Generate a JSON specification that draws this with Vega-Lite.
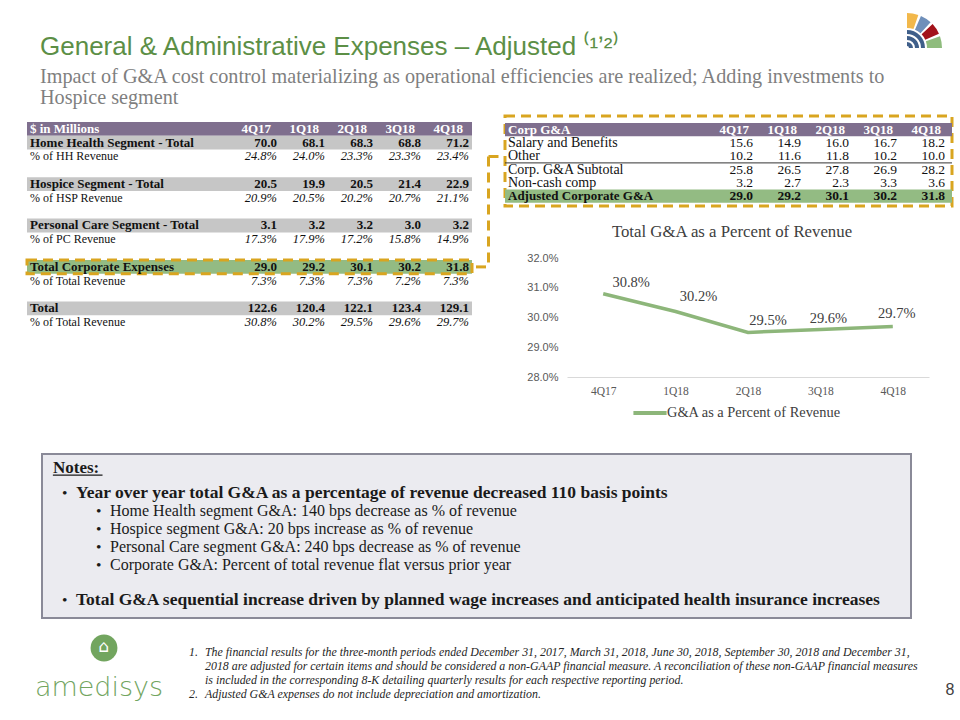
{
  "$schema": "https://vega.github.io/schema/vega-lite/v6.json",
  "background": "white",
  "padding": {"left": 25, "top": 12, "right": 0, "bottom": 0},
  "spacing": 0,
  "resolve": {"scale": {"color": "independent"}, "legend": {"color": "independent"}},
  "config": {"view": {"stroke": null}},
  "datasets": {
    "leftLabels": [
      {"id": "hdr", "label": "$ in Millions", "type": "header"},
      {"id": "hh", "label": "Home Health Segment - Total", "type": "total"},
      {"id": "hhp", "label": "% of HH Revenue", "type": "pct"},
      {"id": "hsp", "label": "Hospice Segment - Total", "type": "total"},
      {"id": "hspp", "label": "% of HSP Revenue", "type": "pct"},
      {"id": "pc", "label": "Personal Care Segment - Total", "type": "total"},
      {"id": "pcp", "label": "% of PC Revenue", "type": "pct"},
      {"id": "corp", "label": "Total Corporate Expenses", "type": "corp"},
      {"id": "corpp", "label": "% of Total Revenue", "type": "pct"},
      {"id": "tot", "label": "Total", "type": "total"},
      {"id": "totp", "label": "% of Total Revenue", "type": "pct"}
    ],
    "leftValues": [
      {"id": "hh", "q": "4Q17", "v": 70.0}, {"id": "hh", "q": "1Q18", "v": 68.1}, {"id": "hh", "q": "2Q18", "v": 68.3}, {"id": "hh", "q": "3Q18", "v": 68.8}, {"id": "hh", "q": "4Q18", "v": 71.2},
      {"id": "hhp", "q": "4Q17", "v": 0.248}, {"id": "hhp", "q": "1Q18", "v": 0.240}, {"id": "hhp", "q": "2Q18", "v": 0.233}, {"id": "hhp", "q": "3Q18", "v": 0.233}, {"id": "hhp", "q": "4Q18", "v": 0.234},
      {"id": "hsp", "q": "4Q17", "v": 20.5}, {"id": "hsp", "q": "1Q18", "v": 19.9}, {"id": "hsp", "q": "2Q18", "v": 20.5}, {"id": "hsp", "q": "3Q18", "v": 21.4}, {"id": "hsp", "q": "4Q18", "v": 22.9},
      {"id": "hspp", "q": "4Q17", "v": 0.209}, {"id": "hspp", "q": "1Q18", "v": 0.205}, {"id": "hspp", "q": "2Q18", "v": 0.202}, {"id": "hspp", "q": "3Q18", "v": 0.207}, {"id": "hspp", "q": "4Q18", "v": 0.211},
      {"id": "pc", "q": "4Q17", "v": 3.1}, {"id": "pc", "q": "1Q18", "v": 3.2}, {"id": "pc", "q": "2Q18", "v": 3.2}, {"id": "pc", "q": "3Q18", "v": 3.0}, {"id": "pc", "q": "4Q18", "v": 3.2},
      {"id": "pcp", "q": "4Q17", "v": 0.173}, {"id": "pcp", "q": "1Q18", "v": 0.179}, {"id": "pcp", "q": "2Q18", "v": 0.172}, {"id": "pcp", "q": "3Q18", "v": 0.158}, {"id": "pcp", "q": "4Q18", "v": 0.149},
      {"id": "corp", "q": "4Q17", "v": 29.0}, {"id": "corp", "q": "1Q18", "v": 29.2}, {"id": "corp", "q": "2Q18", "v": 30.1}, {"id": "corp", "q": "3Q18", "v": 30.2}, {"id": "corp", "q": "4Q18", "v": 31.8},
      {"id": "corpp", "q": "4Q17", "v": 0.073}, {"id": "corpp", "q": "1Q18", "v": 0.073}, {"id": "corpp", "q": "2Q18", "v": 0.073}, {"id": "corpp", "q": "3Q18", "v": 0.072}, {"id": "corpp", "q": "4Q18", "v": 0.073},
      {"id": "tot", "q": "4Q17", "v": 122.6}, {"id": "tot", "q": "1Q18", "v": 120.4}, {"id": "tot", "q": "2Q18", "v": 122.1}, {"id": "tot", "q": "3Q18", "v": 123.4}, {"id": "tot", "q": "4Q18", "v": 129.1},
      {"id": "totp", "q": "4Q17", "v": 0.308}, {"id": "totp", "q": "1Q18", "v": 0.302}, {"id": "totp", "q": "2Q18", "v": 0.295}, {"id": "totp", "q": "3Q18", "v": 0.296}, {"id": "totp", "q": "4Q18", "v": 0.297}
    ],
    "corpLabels": [
      {"id": "hdr", "label": "Corp G&A", "type": "header"},
      {"id": "sal", "label": "Salary and Benefits", "type": "item"},
      {"id": "oth", "label": "Other", "type": "item"},
      {"id": "sub", "label": "Corp. G&A Subtotal", "type": "item"},
      {"id": "ncc", "label": "Non-cash comp", "type": "item"},
      {"id": "adj", "label": "Adjusted Corporate G&A", "type": "corp"}
    ],
    "corpValues": [
      {"id": "sal", "q": "4Q17", "v": 15.6}, {"id": "sal", "q": "1Q18", "v": 14.9}, {"id": "sal", "q": "2Q18", "v": 16.0}, {"id": "sal", "q": "3Q18", "v": 16.7}, {"id": "sal", "q": "4Q18", "v": 18.2},
      {"id": "oth", "q": "4Q17", "v": 10.2}, {"id": "oth", "q": "1Q18", "v": 11.6}, {"id": "oth", "q": "2Q18", "v": 11.8}, {"id": "oth", "q": "3Q18", "v": 10.2}, {"id": "oth", "q": "4Q18", "v": 10.0},
      {"id": "sub", "q": "4Q17", "v": 25.8}, {"id": "sub", "q": "1Q18", "v": 26.5}, {"id": "sub", "q": "2Q18", "v": 27.8}, {"id": "sub", "q": "3Q18", "v": 26.9}, {"id": "sub", "q": "4Q18", "v": 28.2},
      {"id": "ncc", "q": "4Q17", "v": 3.2}, {"id": "ncc", "q": "1Q18", "v": 2.7}, {"id": "ncc", "q": "2Q18", "v": 2.3}, {"id": "ncc", "q": "3Q18", "v": 3.3}, {"id": "ncc", "q": "4Q18", "v": 3.6},
      {"id": "adj", "q": "4Q17", "v": 29.0}, {"id": "adj", "q": "1Q18", "v": 29.2}, {"id": "adj", "q": "2Q18", "v": 30.1}, {"id": "adj", "q": "3Q18", "v": 30.2}, {"id": "adj", "q": "4Q18", "v": 31.8}
    ],
    "trend": [
      {"q": "4Q17", "pct": 0.308},
      {"q": "1Q18", "pct": 0.302},
      {"q": "2Q18", "pct": 0.295},
      {"q": "3Q18", "pct": 0.296},
      {"q": "4Q18", "pct": 0.297}
    ],
    "notes": [
      {"id": "notes", "level": 0, "text": "Notes:"},
      {"id": "yoy", "level": 1, "text": "Year over year total G&A as a percentage of revenue decreased 110 basis points"},
      {"id": "hh", "level": 2, "text": "Home Health segment G&A: 140 bps decrease as % of revenue"},
      {"id": "hsp", "level": 2, "text": "Hospice segment G&A: 20 bps increase as % of revenue"},
      {"id": "pc", "level": 2, "text": "Personal Care segment G&A: 240 bps decrease as % of revenue"},
      {"id": "corp", "level": 2, "text": "Corporate G&A: Percent of total revenue flat versus prior year"},
      {"id": "seq", "level": 1, "text": "Total G&A sequential increase driven by planned wage increases and anticipated health insurance increases"}
    ],
    "footnotes": [
      {"num": "1.", "text": "The financial results for the three-month periods ended December 31, 2017, March 31, 2018, June 30, 2018, September 30, 2018 and December 31,"},
      {"num": "", "text": "2018 are adjusted for certain items and should be considered a non-GAAP financial measure.  A reconciliation of these non-GAAP financial measures"},
      {"num": "", "text": "is included in the corresponding 8-K detailing quarterly results for each respective reporting period."},
      {"num": "2.", "text": "Adjusted G&A expenses do not include depreciation and amortization."}
    ]
  },
  "vconcat": [
    {
      "hconcat": [
        {
          "width": 820, "height": 20,
          "data": {"values": []},
          "mark": "point",
          "title": {
            "text": "General & Administrative Expenses – Adjusted ⁽¹ʼ²⁾",
            "subtitle": ["Impact of G&A cost control materializing as operational efficiencies are realized; Adding investments to", "Hospice segment"],
            "orient": "bottom", "anchor": "start", "dx": 13, "offset": 2,
            "font": "Liberation Sans", "fontSize": 26, "fontWeight": "normal", "color": "#5c8f46",
            "subtitleFont": "Liberation Serif", "subtitleFontSize": 20.2, "subtitleColor": "#7f7f7f",
            "subtitlePadding": 7, "subtitleLineHeight": 21
          }
        },
        {
          "width": 72, "height": 72,
          "data": {"values": [{}]},
          "layer": [
            {"mark": {"type": "arc", "theta": 0.0, "theta2": 0.33, "innerRadius": 20, "outerRadius": 35, "color": "#f2b84b"}, "encoding": {}},
            {"mark": {"type": "arc", "theta": 0.41, "theta2": 0.74, "innerRadius": 20, "outerRadius": 35, "color": "#6f8fba"}, "encoding": {}},
            {"mark": {"type": "arc", "theta": 0.82, "theta2": 1.15, "innerRadius": 20, "outerRadius": 35, "color": "#a3121a"}, "encoding": {}},
            {"mark": {"type": "arc", "theta": 1.23, "theta2": 1.5708, "innerRadius": 20, "outerRadius": 35, "color": "#8fbc7d"}, "encoding": {}},
            {"mark": {"type": "arc", "theta": 0.0, "theta2": 1.5708, "innerRadius": 14, "outerRadius": 18, "color": "#3f5f8a"}, "encoding": {}},
            {"mark": {"type": "arc", "theta": 0.0, "theta2": 1.5708, "innerRadius": 8, "outerRadius": 12, "color": "#3f5f8a"}, "encoding": {}},
            {"mark": {"type": "arc", "theta": 0.0, "theta2": 1.5708, "innerRadius": 2, "outerRadius": 6, "color": "#3f5f8a"}, "encoding": {}}
          ]
        }
      ],
      "spacing": 24,
      "bounds": "flush"
    },
    {"width": 1, "height": 5, "data": {"values": []}, "mark": "point"},
    {
      "resolve": {"scale": {"color": "independent"}, "legend": {"color": "independent"}},
      "hconcat": [
        {
          "width": 445, "height": 213,
          "resolve": {"scale": {"x": "independent"}},
          "encoding": {
            "y": {"field": "id", "type": "nominal", "axis": null,
                  "scale": {"type": "band", "domain": ["hdr", "hh", "hhp", "g1", "hsp", "hspp", "g2", "pc", "pcp", "g3", "corp", "corpp", "g4", "tot", "totp"], "paddingInner": 0, "paddingOuter": 0.217, "align": 1}}
          },
          "layer": [
            {"data": {"name": "leftLabels"}, "transform": [{"filter": "datum.type == 'header'"}], "mark": {"type": "rect", "color": "#7f6f8e"}},
            {"data": {"name": "leftLabels"}, "transform": [{"filter": "datum.type == 'total'"}], "mark": {"type": "rect", "color": "#c6c6c6"}},
            {"data": {"name": "leftLabels"}, "transform": [{"filter": "datum.type == 'corp'"}], "mark": {"type": "rect", "fill": "#93bb83", "stroke": "#d9a520", "strokeWidth": 3, "strokeDash": [10, 6]}},
            {"data": {"name": "leftLabels"}, "transform": [{"filter": "datum.type == 'header'"}],
             "mark": {"type": "text", "align": "left", "dx": 3, "font": "Liberation Serif", "fontSize": 13, "fontWeight": "bold", "color": "#ffffff"},
             "encoding": {"x": {"datum": 0, "type": "quantitative", "scale": {"domain": [0, 1]}, "axis": null}, "text": {"field": "label"}}},
            {"data": {"name": "leftLabels"}, "transform": [{"filter": "datum.type == 'total' || datum.type == 'corp'"}],
             "mark": {"type": "text", "align": "left", "dx": 3, "font": "Liberation Serif", "fontSize": 13, "fontWeight": "bold", "color": "#111111"},
             "encoding": {"x": {"datum": 0, "type": "quantitative", "scale": {"domain": [0, 1]}, "axis": null}, "text": {"field": "label"}}},
            {"data": {"name": "leftLabels"}, "transform": [{"filter": "datum.type == 'pct'"}],
             "mark": {"type": "text", "align": "left", "dx": 3, "font": "Liberation Serif", "fontSize": 12, "color": "#111111"},
             "encoding": {"x": {"datum": 0, "type": "quantitative", "scale": {"domain": [0, 1]}, "axis": null}, "text": {"field": "label"}}},
            {"data": {"name": "leftValues"}, "transform": [{"filter": "datum.id == 'hh'"}],
             "mark": {"type": "text", "align": "right", "dx": -9, "font": "Liberation Serif", "fontSize": 13, "fontWeight": "bold", "color": "#ffffff"},
             "encoding": {
               "x": {"field": "q", "type": "ordinal", "bandPosition": 1, "axis": null, "scale": {"type": "band", "domain": ["4Q17", "1Q18", "2Q18", "3Q18", "4Q18"], "range": [205, 445], "paddingInner": 0, "paddingOuter": 0}},
               "y": {"datum": "hdr"},
               "text": {"field": "q"}}},
            {"data": {"name": "leftValues"}, "transform": [{"filter": {"field": "id", "oneOf": ["hh", "hsp", "pc", "corp", "tot"]}}],
             "mark": {"type": "text", "align": "right", "dx": -3, "font": "Liberation Serif", "fontSize": 13, "fontWeight": "bold", "color": "#111111"},
             "encoding": {
               "x": {"field": "q", "type": "ordinal", "bandPosition": 1, "axis": null, "scale": {"type": "band", "domain": ["4Q17", "1Q18", "2Q18", "3Q18", "4Q18"], "range": [205, 445], "paddingInner": 0, "paddingOuter": 0}},
               "text": {"field": "v", "type": "quantitative", "format": ".1f"}}},
            {"data": {"name": "leftValues"}, "transform": [{"filter": {"field": "id", "oneOf": ["hhp", "hspp", "pcp", "corpp", "totp"]}}],
             "mark": {"type": "text", "align": "right", "dx": -3, "font": "Liberation Serif", "fontSize": 12.5, "fontStyle": "italic", "color": "#111111"},
             "encoding": {
               "x": {"field": "q", "type": "ordinal", "bandPosition": 1, "axis": null, "scale": {"type": "band", "domain": ["4Q17", "1Q18", "2Q18", "3Q18", "4Q18"], "range": [205, 445], "paddingInner": 0, "paddingOuter": 0}},
               "text": {"field": "v", "type": "quantitative", "format": ".1%"}}}
          ]
        },
        {
          "width": 25, "height": 213,
          "data": {"values": [{}]},
          "encoding": {},
          "layer": [
            {"mark": {"type": "rule", "color": "#d9a520", "strokeWidth": 3, "strokeDash": [10, 6]},
             "encoding": {
               "x": {"datum": "link", "type": "nominal", "axis": null, "scale": {"type": "point", "domain": ["table", "link", "box"], "padding": 0}},
               "y": {"datum": "hhp", "type": "nominal", "axis": null, "scale": {"type": "band", "domain": ["hdr", "hh", "hhp", "g1", "hsp", "hspp", "g2", "pc", "pcp", "g3", "corp", "corpp", "g4", "tot", "totp"], "paddingInner": 0, "paddingOuter": 0.217, "align": 1}},
               "y2": {"datum": "corp"}}},
            {"mark": {"type": "rule", "color": "#d9a520", "strokeWidth": 3, "strokeDash": [10, 6]},
             "encoding": {"x": {"datum": "table", "type": "nominal"}, "x2": {"datum": "link"}, "y": {"datum": "corp", "type": "nominal"}}},
            {"mark": {"type": "rule", "color": "#d9a520", "strokeWidth": 3, "strokeDash": [10, 6]},
             "encoding": {"x": {"datum": "link", "type": "nominal"}, "x2": {"datum": "box"}, "y": {"datum": "hhp", "type": "nominal"}}}
          ]
        },
        {
          "resolve": {"scale": {"color": "independent"}, "legend": {"color": "independent"}},
          "vconcat": [
            {
              "width": 447, "height": 90,
              "view": {"stroke": "#d9a520", "strokeWidth": 3, "strokeDash": [10, 6]},
              "resolve": {"scale": {"x": "independent"}},
              "encoding": {
                "y": {"field": "id", "type": "nominal", "axis": null,
                      "scale": {"type": "band", "domain": ["hdr", "sal", "oth", "sub", "ncc", "adj"], "paddingInner": 0, "paddingOuter": 0.383, "align": 0.686}}
              },
              "layer": [
                {"data": {"name": "corpLabels"}, "transform": [{"filter": "datum.type == 'header'"}], "mark": {"type": "rect", "color": "#7f6f8e"}},
                {"data": {"name": "corpLabels"}, "transform": [{"filter": "datum.type == 'corp'"}], "mark": {"type": "rect", "color": "#93bb83"}},
                {"data": {"name": "corpLabels"}, "transform": [{"filter": "datum.id == 'oth'"}], "mark": {"type": "rule", "color": "#333333", "strokeWidth": 1},
                 "encoding": {"y": {"field": "id", "type": "nominal", "bandPosition": 1, "axis": null}}},
                {"data": {"name": "corpLabels"}, "transform": [{"filter": "datum.type == 'header'"}],
                 "mark": {"type": "text", "align": "left", "dx": 3, "font": "Liberation Serif", "fontSize": 13, "fontWeight": "bold", "color": "#ffffff"},
                 "encoding": {"x": {"datum": 0, "type": "quantitative", "scale": {"domain": [0, 1]}, "axis": null}, "text": {"field": "label"}}},
                {"data": {"name": "corpLabels"}, "transform": [{"filter": "datum.type == 'item'"}],
                 "mark": {"type": "text", "align": "left", "dx": 3, "font": "Liberation Serif", "fontSize": 14, "color": "#111111"},
                 "encoding": {"x": {"datum": 0, "type": "quantitative", "scale": {"domain": [0, 1]}, "axis": null}, "text": {"field": "label"}}},
                {"data": {"name": "corpLabels"}, "transform": [{"filter": "datum.type == 'corp'"}],
                 "mark": {"type": "text", "align": "left", "dx": 3, "font": "Liberation Serif", "fontSize": 13, "fontWeight": "bold", "color": "#111111"},
                 "encoding": {"x": {"datum": 0, "type": "quantitative", "scale": {"domain": [0, 1]}, "axis": null}, "text": {"field": "label"}}},
                {"data": {"name": "corpValues"}, "transform": [{"filter": "datum.id == 'sal'"}],
                 "mark": {"type": "text", "align": "right", "dx": -11, "font": "Liberation Serif", "fontSize": 13, "fontWeight": "bold", "color": "#ffffff"},
                 "encoding": {
                   "x": {"field": "q", "type": "ordinal", "bandPosition": 1, "axis": null, "scale": {"type": "band", "domain": ["4Q17", "1Q18", "2Q18", "3Q18", "4Q18"], "range": [207, 447], "paddingInner": 0, "paddingOuter": 0}},
                   "y": {"datum": "hdr"},
                   "text": {"field": "q"}}},
                {"data": {"name": "corpValues"}, "transform": [{"filter": "datum.id != 'adj'"}],
                 "mark": {"type": "text", "align": "right", "dx": -7, "font": "Liberation Serif", "fontSize": 13.5, "color": "#111111"},
                 "encoding": {
                   "x": {"field": "q", "type": "ordinal", "bandPosition": 1, "axis": null, "scale": {"type": "band", "domain": ["4Q17", "1Q18", "2Q18", "3Q18", "4Q18"], "range": [207, 447], "paddingInner": 0, "paddingOuter": 0}},
                   "text": {"field": "v", "type": "quantitative", "format": ".1f"}}},
                {"data": {"name": "corpValues"}, "transform": [{"filter": "datum.id == 'adj'"}],
                 "mark": {"type": "text", "align": "right", "dx": -7, "font": "Liberation Serif", "fontSize": 13.5, "fontWeight": "bold", "color": "#111111"},
                 "encoding": {
                   "x": {"field": "q", "type": "ordinal", "bandPosition": 1, "axis": null, "scale": {"type": "band", "domain": ["4Q17", "1Q18", "2Q18", "3Q18", "4Q18"], "range": [207, 447], "paddingInner": 0, "paddingOuter": 0}},
                   "text": {"field": "v", "type": "quantitative", "format": ".1f"}}}
              ]
            },
            {
              "resolve": {"scale": {"color": "independent"}, "legend": {"color": "independent"}},
              "hconcat": [
                {"width": 21, "height": 1, "data": {"values": []}, "mark": "point"},
                {
                  "width": 362, "height": 119,
                  "title": {"text": "Total G&A as a Percent of Revenue", "font": "Liberation Serif", "fontSize": 16.8, "fontWeight": "normal", "color": "#404040", "anchor": "middle", "frame": "group", "dx": -16, "offset": 11},
                  "data": {"name": "trend"},
                  "encoding": {
                    "x": {"field": "q", "type": "ordinal", "sort": null, "scale": {"type": "point", "padding": 0.5},
                          "axis": {"title": null, "labelAngle": 0, "ticks": false, "domainColor": "#d9d9d9", "domainWidth": 1, "labelFont": "Liberation Serif", "labelFontSize": 11.5, "labelColor": "#595959", "labelPadding": 8}},
                    "y": {"field": "pct", "type": "quantitative", "scale": {"domain": [0.28, 0.32], "zero": false, "nice": false},
                          "axis": {"title": null, "format": ".1%", "values": [0.28, 0.29, 0.30, 0.31, 0.32], "grid": false, "domain": false, "ticks": false, "labelFont": "Liberation Sans", "labelFontSize": 11, "labelColor": "#595959", "labelPadding": 9, "minExtent": 40, "maxExtent": 40}}
                  },
                  "layer": [
                    {"mark": {"type": "line", "strokeWidth": 3.5},
                     "encoding": {"color": {"datum": "G&A as a Percent of Revenue", "type": "nominal", "scale": {"range": ["#8db67a"]},
                       "legend": {"title": null, "orient": "none", "legendX": 64, "legendY": 136, "direction": "horizontal", "symbolType": "stroke", "symbolStrokeWidth": 4, "symbolSize": 1100, "labelOffset": -2, "labelFont": "Liberation Serif", "labelFontSize": 14.4, "labelColor": "#404040", "labelLimit": 400}}}},
                    {"transform": [{"filter": "datum.q == '4Q17'"}], "mark": {"type": "text", "dx": 28, "dy": -11, "font": "Liberation Serif", "fontSize": 14.5, "color": "#404040"}, "encoding": {"text": {"field": "pct", "type": "quantitative", "format": ".1%"}}},
                    {"transform": [{"filter": "datum.q == '1Q18'"}], "mark": {"type": "text", "dx": 23, "dy": -15, "font": "Liberation Serif", "fontSize": 14.5, "color": "#404040"}, "encoding": {"text": {"field": "pct", "type": "quantitative", "format": ".1%"}}},
                    {"transform": [{"filter": "datum.q == '2Q18'"}], "mark": {"type": "text", "dx": 20, "dy": -11, "font": "Liberation Serif", "fontSize": 14.5, "color": "#404040"}, "encoding": {"text": {"field": "pct", "type": "quantitative", "format": ".1%"}}},
                    {"transform": [{"filter": "datum.q == '3Q18'"}], "mark": {"type": "text", "dx": 8, "dy": -10, "font": "Liberation Serif", "fontSize": 14.5, "color": "#404040"}, "encoding": {"text": {"field": "pct", "type": "quantitative", "format": ".1%"}}},
                    {"transform": [{"filter": "datum.q == '4Q18'"}], "mark": {"type": "text", "dx": 4, "dy": -12, "font": "Liberation Serif", "fontSize": 14.5, "color": "#404040"}, "encoding": {"text": {"field": "pct", "type": "quantitative", "format": ".1%"}}}
                  ]
                }
              ],
              "spacing": 0
            }
          ],
          "spacing": 16
        }
      ],
      "spacing": 0
    },
    {"width": 1, "height": 32, "data": {"values": []}, "mark": "point"},
    {
      "hconcat": [
        {"width": 14, "height": 1, "data": {"values": []}, "mark": "point"},
        {
          "width": 869, "height": 164,
          "view": {"fill": "#ebebf0", "stroke": "#8a8a98", "strokeWidth": 2},
          "data": {"name": "notes"},
          "encoding": {
            "y": {"field": "id", "type": "nominal", "axis": null,
                  "scale": {"type": "band", "domain": ["notes", "yoy", "hh", "hsp", "pc", "corp", "gap", "seq"], "paddingInner": 0, "paddingOuter": 0.581, "align": 0.584}},
            "x": {"field": "level", "type": "quantitative", "axis": null, "scale": {"domain": [0, 25.56], "nice": false, "zero": false}}
          },
          "layer": [
            {"transform": [{"filter": "datum.level == 0"}],
             "mark": {"type": "text", "align": "left", "dx": 11, "dy": -7, "font": "Liberation Serif", "fontSize": 17, "fontWeight": "bold", "color": "#1a1a1a"},
             "encoding": {"text": {"field": "text"}}},
            {"transform": [{"filter": "datum.level == 0"}],
             "mark": {"type": "rule", "color": "#1a1a1a", "strokeWidth": 1.2},
             "encoding": {"x": {"datum": 0.32}, "x2": {"datum": 1.78}}},
            {"transform": [{"filter": "datum.level > 0"}],
             "mark": {"type": "text", "align": "left", "dx": -14, "font": "Liberation Serif", "fontSize": 15.5, "color": "#1a1a1a"},
             "encoding": {"text": {"value": "•"}}},
            {"transform": [{"filter": "datum.level == 1"}],
             "mark": {"type": "text", "align": "left", "font": "Liberation Serif", "fontSize": 17.5, "fontWeight": "bold", "color": "#1a1a1a"},
             "encoding": {"text": {"field": "text"}}},
            {"transform": [{"filter": "datum.level == 2"}],
             "mark": {"type": "text", "align": "left", "font": "Liberation Serif", "fontSize": 16, "color": "#1a1a1a"},
             "encoding": {"text": {"field": "text"}}}
          ]
        }
      ],
      "spacing": 0
    },
    {"width": 1, "height": 10, "data": {"values": []}, "mark": "point"},
    {
      "hconcat": [
        {
          "width": 150, "height": 74,
          "data": {"values": [{}]},
          "layer": [
            {"mark": {"type": "circle", "size": 720, "color": "#72a55f", "opacity": 1, "yOffset": -18, "xOffset": 2}, "encoding": {}},
            {"mark": {"type": "text", "fontSize": 17, "color": "#ffffff", "dy": -19, "dx": 2, "font": "DejaVu Sans"}, "encoding": {"text": {"value": "⌂"}}},
            {"mark": {"type": "text", "font": "DejaVu Sans", "fontSize": 27, "fontWeight": 300, "color": "#72a55f", "baseline": "alphabetic", "dy": 30, "dx": -3}, "encoding": {"text": {"value": "amedisys"}}}
          ]
        },
        {
          "width": 727, "height": 72,
          "data": {"name": "footnotes"},
          "encoding": {
            "y": {"field": "text", "type": "nominal", "sort": null, "axis": null, "scale": {"type": "band", "paddingInner": 0, "paddingOuter": 0.571, "align": 1}},
            "x": {"datum": 0, "type": "quantitative", "scale": {"domain": [0, 1]}, "axis": null}
          },
          "layer": [
            {"mark": {"type": "text", "align": "left", "dx": 2, "font": "Liberation Sans Narrow", "fontSize": 11.9, "fontStyle": "italic", "color": "#262626"}, "encoding": {"text": {"field": "num"}}},
            {"mark": {"type": "text", "align": "left", "dx": 18, "font": "Liberation Sans Narrow", "fontSize": 11.9, "fontStyle": "italic", "color": "#262626"}, "encoding": {"text": {"field": "text"}}}
          ]
        },
        {
          "width": 36, "height": 72,
          "data": {"values": [{}]},
          "mark": {"type": "text", "font": "Liberation Sans", "fontSize": 16, "color": "#404040", "dy": 25},
          "encoding": {"text": {"value": "8"}}
        }
      ],
      "spacing": 10
    }
  ]
}
